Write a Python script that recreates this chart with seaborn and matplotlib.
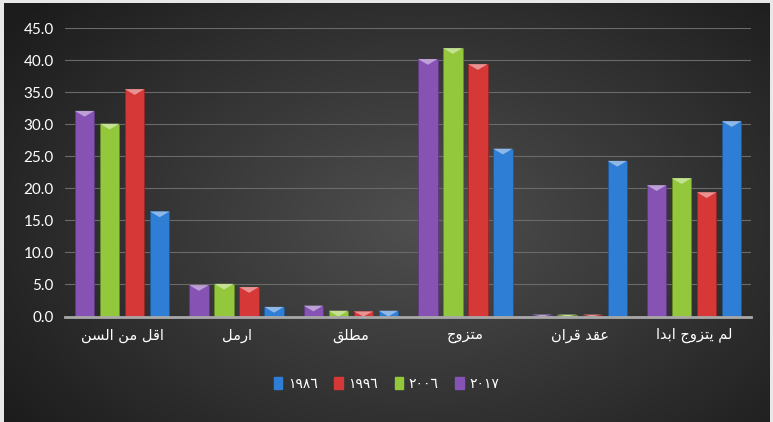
import numpy as np
import pandas as pd
import matplotlib.pyplot as plt
import seaborn as sns
from matplotlib.patches import Polygon

# data
categories = ["اقل من السن", "ارمل", "مطلق", "متزوج", "عقد قران", "لم يتزوج ابدا"]
years = ["٢٠١٧", "٢٠٠٦", "١٩٩٦", "١٩٨٦"]
v2017 = [32.1, 4.9, 1.7, 40.2, 0.3, 20.5]
v2006 = [30.1, 5.1, 0.9, 41.9, 0.3, 21.6]
v1996 = [35.5, 4.6, 0.8, 39.4, 0.3, 19.4]
v1986 = [16.4, 1.5, 0.9, 26.2, 24.3, 30.5]
colors = ["#8653b5", "#93c83c", "#d63838", "#2f7ed6"]
yticks = [0, 5, 10, 15, 20, 25, 30, 35, 40, 45]

# --- minimal arabic shaping (matplotlib does no shaping / bidi) ---
forms = {
    'ا': (0xFE8D, 0xFE8E, None, None),
    'ب': (0xFE8F, 0xFE90, 0xFE91, 0xFE92),
    'ت': (0xFE95, 0xFE96, 0xFE97, 0xFE98),
    'ج': (0xFE9D, 0xFE9E, 0xFE9F, 0xFEA0),
    'د': (0xFEA9, 0xFEAA, None, None),
    'ر': (0xFEAD, 0xFEAE, None, None),
    'ز': (0xFEAF, 0xFEB0, None, None),
    'س': (0xFEB1, 0xFEB2, 0xFEB3, 0xFEB4),
    'ط': (0xFEC1, 0xFEC2, 0xFEC3, 0xFEC4),
    'ع': (0xFEC9, 0xFECA, 0xFECB, 0xFECC),
    'ق': (0xFED5, 0xFED6, 0xFED7, 0xFED8),
    'ل': (0xFEDD, 0xFEDE, 0xFEDF, 0xFEE0),
    'م': (0xFEE1, 0xFEE2, 0xFEE3, 0xFEE4),
    'ن': (0xFEE5, 0xFEE6, 0xFEE7, 0xFEE8),
    'و': (0xFEED, 0xFEEE, None, None),
    'ي': (0xFEF1, 0xFEF2, 0xFEF3, 0xFEF4),
}


def shape(text):
    out = []
    for i, ch in enumerate(text):
        if ch not in forms:
            out.append(ch)
            continue
        prev = text[i - 1] if i > 0 else None
        nxt = text[i + 1] if i + 1 < len(text) else None
        jp = prev in forms and forms[prev][2] is not None
        jn = nxt in forms and forms[ch][2] is not None
        iso, fin, ini, med = forms[ch]
        if jp and jn:
            c = med
        elif jp:
            c = fin
        elif jn:
            c = ini
        else:
            c = iso
        out.append(chr(c))
    return "".join(out[::-1])


df = pd.DataFrame({
    "cat": categories * 4,
    "year": np.repeat(years, len(categories)),
    "value": v2017 + v2006 + v1996 + v1986,
})

fig = plt.figure(figsize=(7.73, 4.22), dpi=100)
fig.patch.set_facecolor("#e8e8e8")

# radial dark background panel
bg = fig.add_axes([0.005, 0.0, 0.99, 0.993])
yy, xx = np.mgrid[0:200, 0:360]
d = np.sqrt(((xx - 195) / 230.0) ** 2 + ((yy - 105) / 150.0) ** 2)
g = np.clip(0.31 - 0.19 * d, 0.11, 0.31)
bg.imshow(np.dstack([g, g, g]), aspect="auto", extent=[0, 1, 0, 1])
bg.axis("off")

ax = fig.add_axes([0.084, 0.25, 0.888, 0.683])
ax.set_facecolor("none")
sns.barplot(data=df, x="cat", y="value", hue="year", hue_order=years,
            palette=colors, width=0.875, gap=0.22, saturation=1,
            ax=ax, legend=False, zorder=3)

# lighter bevel caps on the bar tops
for p in list(ax.patches):
    x0, w, h = p.get_x(), p.get_width(), p.get_height()
    if h <= 0:
        continue
    fc = np.array(p.get_facecolor()[:3])
    p.set_edgecolor(fc * 0.7)
    p.set_linewidth(0.6)
    light = fc + (1 - fc) * 0.45
    depth = min(h, 0.9)
    ax.add_patch(Polygon([[x0, h], [x0 + w, h], [x0 + w / 2, h - depth]],
                         closed=True, facecolor=light, edgecolor="none", zorder=4))

ax.set_ylim(0, 45)
ax.set_xlim(-0.5, 5.5)
ax.set_yticks(yticks)
ax.set_yticklabels([f"{t:.1f}" for t in yticks], color="white", fontsize=11, family="Lato")
ax.set_xticks(range(len(categories)))
ax.set_xticklabels([shape(c) for c in categories], color="white", fontsize=10.5,
                   family="DejaVu Sans")
ax.tick_params(axis="both", length=0, pad=8)
ax.set_xlabel("")
ax.set_ylabel("")
ax.grid(axis="y", color="#6a6a6a", linewidth=0.8, zorder=0)
for s in ["top", "right", "left"]:
    ax.spines[s].set_visible(False)
ax.spines["bottom"].set_color("#a8a8a8")
ax.spines["bottom"].set_linewidth(2)
ax.spines["bottom"].set_zorder(5)

# legend: 1986, 1996, 2006, 2017 from left to right
handles = [plt.Rectangle((0, 0), 1, 1, color=colors[i]) for i in [3, 2, 1, 0]]
labels = [years[i] for i in [3, 2, 1, 0]]
leg = fig.legend(handles, labels, loc="center", bbox_to_anchor=(0.5, 0.09), ncol=4,
                 frameon=False, handlelength=0.6, handleheight=1.0, handletextpad=0.4,
                 columnspacing=1.2, prop={"family": "DejaVu Sans", "size": 10})
for t in leg.get_texts():
    t.set_color("white")

fig.savefig("out.png", dpi=100, facecolor=fig.get_facecolor())
